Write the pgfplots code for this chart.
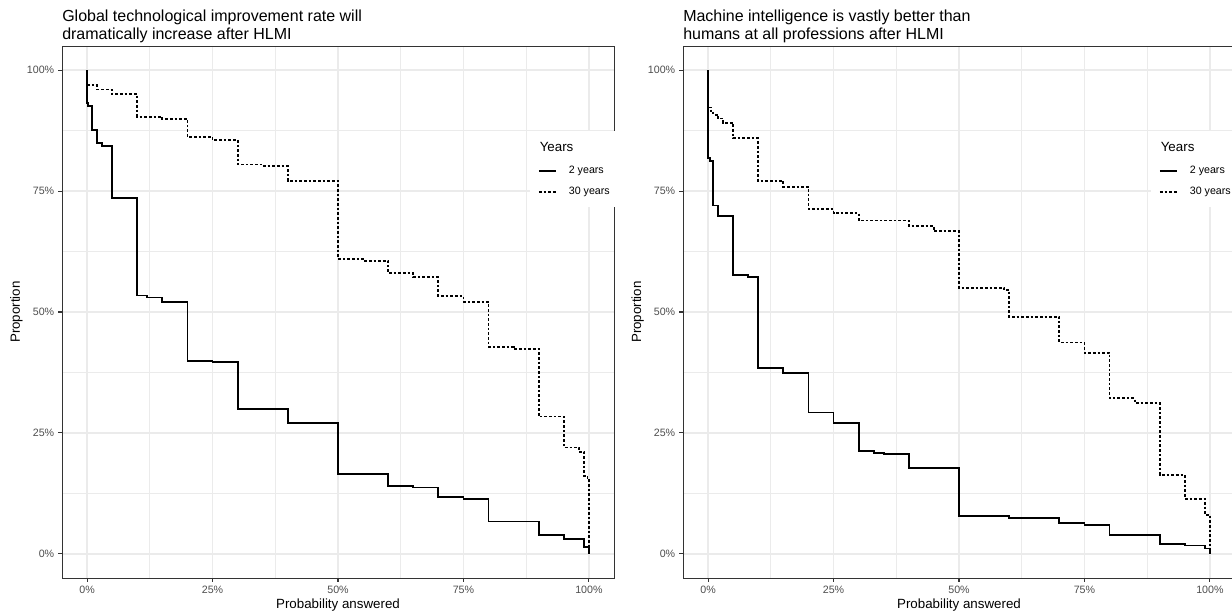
\documentclass[border=0pt]{standalone}
\usepackage{pgfplots}
\usepackage{pgfplotstable}
\pgfplotsset{compat=1.18}
\usepackage{fontspec}
\setmainfont{Liberation Sans}
\definecolor{grid92}{HTML}{EBEBEB}
\definecolor{gray20}{HTML}{333333}
\definecolor{gray30}{HTML}{4D4D4D}

\pgfplotstableread{
x y
0 100
0 93.2
0.2 92.6
1 87.6
2 85.0
3 84.3
5 73.6
10 53.4
12 53.0
15 52.0
20 39.9
25 39.6
30 29.9
40 27.1
50 16.5
60 14.0
65 13.7
70 11.7
75 11.4
80 6.7
90 3.9
95 3.0
99 1.4
100 0
}\leftTwo

\pgfplotstableread{
x y
0 96.9
2 96.0
5 95.0
10 90.4
15 89.9
20 86.2
25 85.6
30 80.5
35 80.2
40 77.1
50 61.0
55 60.6
60 58.0
65 57.2
70 53.3
75 52.1
80 42.8
85 42.4
90 28.4
95 22.0
98 21.1
99 16.1
99.7 15.6
100 0
}\leftThirty

\pgfplotstableread{
x y
0 100
0 81.9
0.4 81.2
1 72.0
2 69.9
5 57.6
8 57.3
10 38.5
15 37.4
20 29.2
25 27.0
30 21.3
33 20.9
35 20.7
40 17.8
50 7.9
60 7.4
70 6.3
75 6.0
80 3.9
90 2.1
95 1.7
99 1.1
100 0
}\rightTwo

\pgfplotstableread{
x y
0 92.3
0.5 91.5
1 90.8
2 90.0
3 89.1
5 85.9
10 77.1
15 75.9
20 71.3
25 70.5
30 68.9
40 67.8
45 66.7
50 55.0
59 54.5
60 49.0
70 43.7
75 41.6
80 32.2
85 31.2
90 16.3
95 11.4
99 8.1
100 0
}\rightThirty

\pgfplotsset{
  ggpanel/.style={
    scale only axis, width=414pt, height=399pt,
    xmin=-5, xmax=105, ymin=-5, ymax=105,
    axis line style={gray20, line width=0.6pt},
    xtick={0,25,50,75,100}, xticklabels={0\%,25\%,50\%,75\%,100\%},
    ytick={0,25,50,75,100}, yticklabels={0\%,25\%,50\%,75\%,100\%},
    minor xtick={12.5,37.5,62.5,87.5}, minor ytick={12.5,37.5,62.5,87.5},
    grid=both,
    major grid style={grid92, line width=1.07pt},
    minor grid style={grid92, line width=0.53pt},
    tick align=outside, major tick length=2.75pt, minor tick length=0pt,
    xtick pos=lower, ytick pos=left,
    tick style={gray20, line width=0.8pt},
    ticklabel style={font=\fontsize{8}{9.6}\selectfont, text=gray30},
    xticklabel style={anchor=base, inner sep=0pt, yshift=-8.6pt},
    yticklabel style={anchor=east, inner sep=0pt, xshift=-2.9pt},
    xlabel={Probability answered}, ylabel={Proportion},
    label style={font=\fontsize{10}{12}\selectfont},
    xlabel style={at={(axis description cs:0.5,0)}, anchor=base, inner sep=0pt, yshift=-22.5pt},
    ylabel style={at={(axis description cs:-0.0761,0.5)}, anchor=base, inner sep=0pt},
    title style={at={(axis description cs:0,1)}, anchor=south west, align=left, inner sep=0pt, yshift=-3.5pt, font=\fontsize{12}{13.5}\selectfont},
    legend style={at={(rel axis cs:0.8466,0.8402)}, anchor=north west, draw=none, fill=white,
      inner xsep=6.3pt, inner ysep=7.5pt, row sep=8pt,
      font=\fontsize{8}{9.6}\selectfont,
      /tikz/every odd column/.append style={column sep=9.3pt},
      nodes={inner sep=0pt, text height=6pt, text depth=2pt}},
    legend cell align=left,
    legend image code/.code={\draw[##1] (0pt,0pt) -- (12.5pt,0pt);},
  },
  twoyr/.style={const plot, black, line width=1.35pt},
  thirtyyr/.style={const plot, black, line width=1.35pt, dash pattern=on 2pt off 1.5pt},
}

\begin{document}
\begin{tikzpicture}
\path[use as bounding box] (0pt,0pt) rectangle (924pt,458.25pt);
\begin{axis}[ggpanel, at={(46.5pt,24.75pt)}, anchor=south west,
  title={Global technological improvement rate will\\dramatically increase after HLMI}]
\addlegendimage{empty legend}
\addlegendentry[font=\fontsize{10}{12}\selectfont, text height=7.5pt, text depth=2.5pt]{\hspace*{-21.8pt}Years}
\addplot[twoyr] table[x=x, y=y] {\leftTwo};
\addlegendentry{2 years}
\addplot[thirtyyr] table[x=x, y=y] {\leftThirty};
\addlegendentry{30 years}
\end{axis}
\begin{axis}[ggpanel, at={(512.25pt,24.75pt)}, anchor=south west,
  title={Machine intelligence is vastly better than\\humans at all professions after HLMI}]
\addlegendimage{empty legend}
\addlegendentry[font=\fontsize{10}{12}\selectfont, text height=7.5pt, text depth=2.5pt]{\hspace*{-21.8pt}Years}
\addplot[twoyr] table[x=x, y=y] {\rightTwo};
\addlegendentry{2 years}
\addplot[thirtyyr] table[x=x, y=y] {\rightThirty};
\addlegendentry{30 years}
\end{axis}
\end{tikzpicture}
\end{document}
